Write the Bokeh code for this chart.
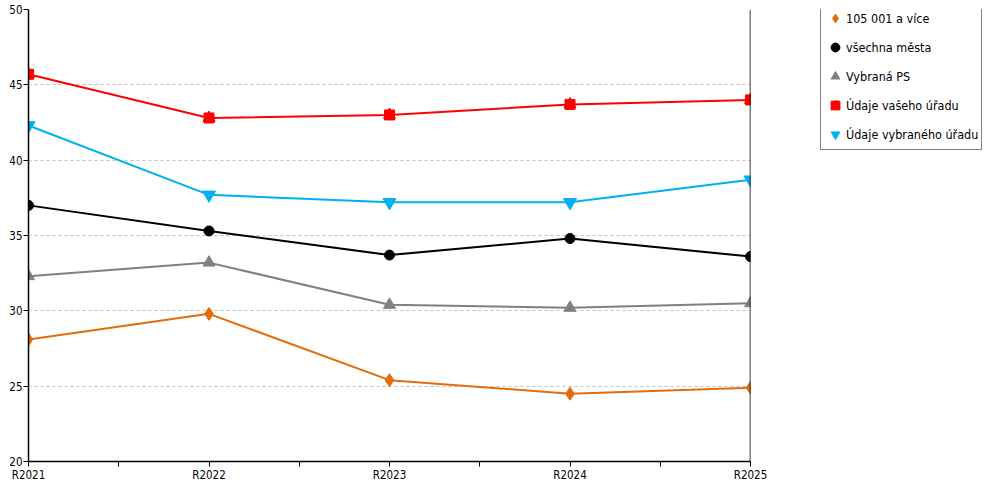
from bokeh.plotting import figure
from bokeh.models import FixedTicker, Span, Legend, LegendItem
from bokeh.layouts import row
from bokeh.embed import file_html
from bokeh.resources import INLINE

categories = ["R2021", "R2022", "R2023", "R2024", "R2025"]
s_105 = [28.1, 29.8, 25.4, 24.5, 24.9]
s_mesta = [37.0, 35.3, 33.7, 34.8, 33.6]
s_ps = [32.3, 33.2, 30.4, 30.2, 30.5]
s_vas = [45.7, 42.8, 43.0, 43.7, 44.0]
s_vybr = [42.3, 37.7, 37.2, 37.2, 38.7]
y_ticks = [20, 25, 30, 35, 40, 45, 50]

FONT = "DejaVu Sans Condensed, DejaVu Sans"
xs = list(range(len(categories)))

p = figure(width=770, height=484, output_backend="svg", toolbar_location=None,
           x_range=(0, len(categories) - 1), y_range=(20, 50),
           min_border_left=28, min_border_right=20, min_border_top=9, min_border_bottom=0)
p.outline_line_color = None
p.background_fill_color = "white"

p.xgrid.grid_line_color = None
p.ygrid.grid_line_color = "#c0c0c0"
p.ygrid.grid_line_dash = "3 3"
p.ygrid.grid_line_width = 1

p.xaxis.ticker = FixedTicker(ticks=xs, minor_ticks=[i + 0.5 for i in xs[:-1]])
p.xaxis.major_label_overrides = {i: c for i, c in enumerate(categories)}
p.yaxis.ticker = FixedTicker(ticks=y_ticks, minor_ticks=[])
for ax in (p.xaxis, p.yaxis):
    ax.axis_line_color = "black"
    ax.axis_line_width = 1.5
    ax.major_tick_line_color = "black"
    ax.minor_tick_line_color = "black"
    ax.major_tick_out = 5
    ax.major_tick_in = 0
    ax.minor_tick_out = 5
    ax.minor_tick_in = 0
    ax.major_label_text_font = FONT
    ax.major_label_text_font_size = "11.5px"
    ax.major_label_text_color = "black"
    ax.major_label_standoff = 1
p.yaxis.minor_tick_line_color = None

p.add_layout(Span(location=len(categories) - 1, dimension="height", line_color="black", line_width=1.5))

series = [
    ("105 001 a více", s_105, "#e46c0a", "diamond", 13),
    ("všechna města", s_mesta, "#000000", "circle", 10),
    ("Vybraná PS", s_ps, "#808080", "triangle", 12),
    ("Údaje vašeho úřadu", s_vas, "#ff0000", "square", 10),
    ("Údaje vybraného úřadu", s_vybr, "#00b0f0", "inverted_triangle", 13),
]

# legend panel as a separate, axis-less figure; its proxy points lie outside its ranges
pl = figure(width=214, height=484, output_backend="svg", toolbar_location=None,
            x_axis_type=None, y_axis_type=None, x_range=(100, 101), y_range=(100, 101),
            min_border=0)
pl.outline_line_color = None
pl.grid.visible = False

items = []
for name, vals, color, marker, size in series:
    p.line(xs, vals, line_color=color, line_width=2)
    p.scatter(xs, vals, marker=marker, size=size, fill_color=color, line_color=color)
    if name == "Údaje vašeho úřadu":
        p.scatter(xs, vals, marker="triangle", size=12, fill_color=color, line_color=color)
    rs = [pl.scatter(x=xs[:1], y=vals[:1], marker=marker, fill_color=color, line_color=color)]
    if name == "Údaje vašeho úřadu":
        rs.append(pl.scatter(x=xs[:1], y=vals[:1], marker="triangle", fill_color=color, line_color=color))
    items.append(LegendItem(label=name, renderers=rs))

legend = Legend(items=items, location=(50, 311))
legend.label_text_font = FONT
legend.label_text_font_size = "12.5px"
legend.label_text_color = "black"
legend.border_line_color = "black"
legend.border_line_width = 1
legend.padding = 3
legend.spacing = 5
legend.label_height = 24
legend.glyph_height = 24
legend.glyph_width = 22
legend.label_standoff = 0
legend.margin = 0
legend.background_fill_alpha = 1
pl.add_layout(legend, "center")

open("out.html", "w").write(file_html(row(p, pl), INLINE))
